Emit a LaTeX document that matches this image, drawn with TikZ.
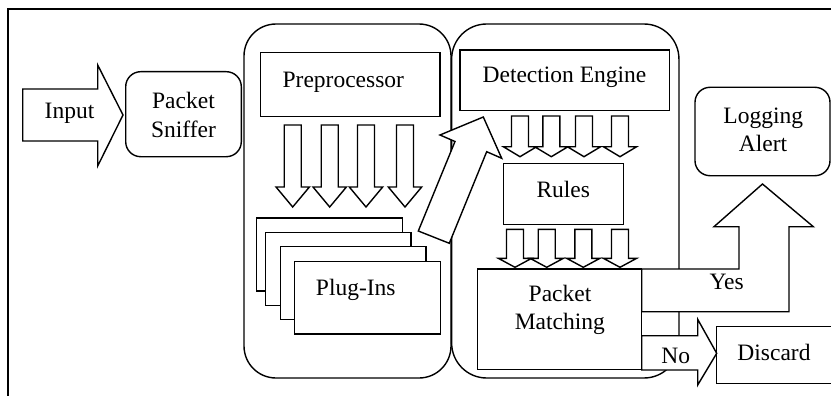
\documentclass[tikz,border=0pt]{standalone}
\usepackage{fontspec}
\setmainfont{Liberation Serif}
% block arrow pointing down: centre x, shaft top, head base, tip
\newcommand\downblock[4]{%
  \draw[blockarrow] ({#1-8.5},#2) -- ({#1+8.5},#2) -- ({#1+8.5},#3) -- ({#1+16.7},#3)
    -- (#1,#4) -- ({#1-16.7},#3) -- ({#1-8.5},#3) -- cycle;}
\begin{document}
\begin{tikzpicture}[x=1pt,y=-1pt,
  frameline/.style={line width=2pt},
  blockarrow/.style={draw,line width=1.4pt,fill=white,line join=miter},
  box/.style={draw,line width=1.4pt,fill=white,rectangle,inner sep=0pt},
  rbox/.style={box,rounded corners=#1},
  txt/.style={font=\fontsize{23.5}{28}\selectfont,anchor=base,inner sep=0pt}]
\clip (0,0) rectangle (831,396);

% outer frame
\draw[frameline] (8,400) -- (8,9) -- (835,9);

% processing groups
\node[rbox=32,minimum width=207,minimum height=354] (pregroup) at (347.5,201) {};
\node[rbox=35,minimum width=227.3,minimum height=354] (detgroup) at (565.3,201) {};

% boxes
\node[rbox=15,minimum width=115.6,minimum height=85] (sniffer) at (183.5,114.2) {};
\node[box,minimum width=179.3,minimum height=64] (prep) at (350.3,84.7) {};
\node[box,minimum width=145.5,minimum height=72.7] (plugA) at (329.5,254.5) {};
\node[box,minimum width=145.5,minimum height=72.7] (plugB) at (338.2,269) {};
\node[box,minimum width=145.5,minimum height=72.7] (plugC) at (353.2,282.9) {};
\node[box,minimum width=145.5,minimum height=72.7] (plugD) at (367.5,297.7) {};
\node[box,minimum width=209.3,minimum height=60.7] (engine) at (564.7,80.3) {};
\node[box,minimum width=120,minimum height=61] (rules) at (563.3,193.8) {};
\node[box,minimum width=164.4,minimum height=100.3] (matching) at (559.5,319.2) {};
\node[rbox=15,minimum width=135,minimum height=88.4] (logging) at (762.5,131.5) {};
\node[box,minimum width=130,minimum height=56.6] (discard) at (781.7,355) {};

% input arrow
\draw[blockarrow] (22.7,89) -- (97.7,89) -- (97.7,65) -- (123,115) -- (97.7,166)
  -- (97.7,141) -- (22.7,141) -- cycle;

% preprocessor to plug-ins
\foreach \cx in {292.7,329.7,366,405} {\downblock{\cx}{125}{187}{207}}
% detection engine to rules
\foreach \cx in {520,551.3,584,620} {\downblock{\cx}{116}{146.7}{156.7}}
% rules to packet matching
\foreach \cx in {515,546.7,583.3,620} {\downblock{\cx}{229.3}{258.3}{267.3}}

% plug-ins to detection engine
\draw[blockarrow] (418.3,231) -- (455,141.5) -- (440,135) -- (483.3,117)
  -- (501.7,158.3) -- (486.7,151.7) -- (449.3,243.3) -- cycle;

% yes branch
\draw[blockarrow] (641.7,269) -- (739,269) -- (739,226.7) -- (714,226.7) -- (762.5,184)
  -- (813.3,226.7) -- (789,226.7) -- (789,311.7) -- (641.7,311.7) -- cycle;
% no branch
\draw[blockarrow] (641.7,335.7) -- (697.7,335.7) -- (697.7,319.3) -- (716.7,353.3)
  -- (697.7,385) -- (697.7,370) -- (641.7,370) -- cycle;

% labels
\node[txt] (tInput) at (69.5,119) {Input};
\node[txt] (tSnifA) at (183.5,108.3) {Packet};
\node[txt] (tSnifB) at (183.5,137.5) {Sniffer};
\node[txt] (tPrep) at (343.3,87.3) {Preprocessor};
\node[txt] (tPlug) at (355.8,295) {Plug-Ins};
\node[txt] (tEngine) at (564.5,82.3) {Detection Engine};
\node[txt] (tRules) at (563.3,197) {Rules};
\node[txt] (tMatchA) at (560,301.7) {Packet};
\node[txt] (tMatchB) at (559.8,329) {Matching};
\node[txt] (tYes) at (726.7,289) {Yes};
\node[txt] (tNo) at (675.8,363.3) {No};
\node[txt] (tDiscard) at (774,360.7) {Discard};
\node[txt] (tLogA) at (763.3,123.3) {Logging};
\node[txt] (tLogB) at (763,151.7) {Alert};
\end{tikzpicture}
\end{document}
